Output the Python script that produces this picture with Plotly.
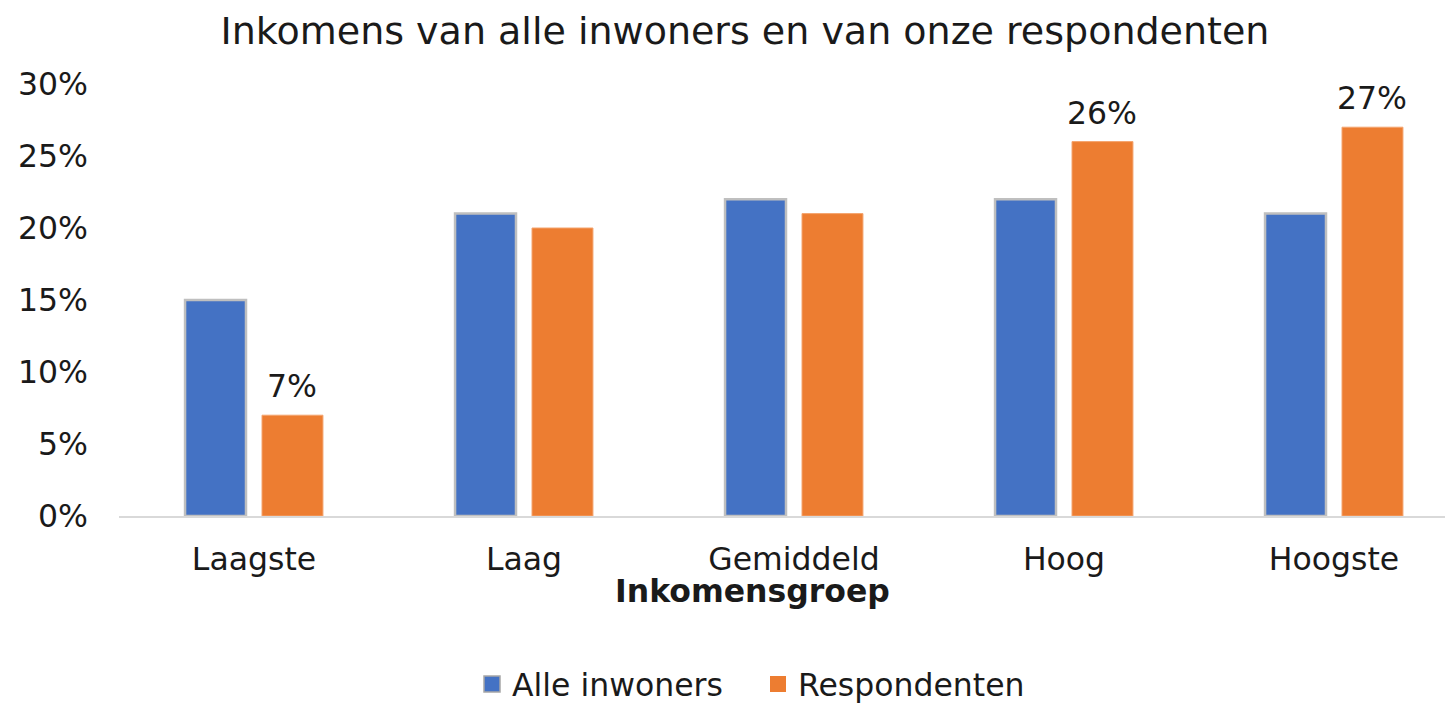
import plotly.graph_objects as go

categories = ["Laagste", "Laag", "Gemiddeld", "Hoog", "Hoogste"]
alle_inwoners = [15, 21, 22, 22, 21]
respondenten = [7, 20, 21, 26, 27]
resp_labels = ["7%", "", "", "26%", "27%"]
y_ticks = [0, 5, 10, 15, 20, 25, 30]
y_tick_labels = ["0%", "5%", "10%", "15%", "20%", "25%", "30%"]

FONT = "DejaVu Sans"
FS = 31.5
TXT = "#1a1a1a"
BLUE, ORANGE = "#4472C4", "#ED7D31"
W, H = 1453, 703
OFF = 8  # page body margin offset
ML, MR, MT, MB = 119 - OFF, 0, 84 - OFF, H - (516 - OFF)

fig = go.Figure()
fig.add_trace(go.Bar(
    x=categories, y=alle_inwoners, name="Alle inwoners", showlegend=False,
    marker=dict(color=BLUE, line=dict(color="#BFBFBF", width=2.5)),
))
fig.add_trace(go.Bar(
    x=categories, y=respondenten, name="Respondenten", showlegend=False,
    marker=dict(color=ORANGE, line=dict(color="#F4A46E", width=1)),
))
# legend entries with larger square swatches
fig.add_trace(go.Scatter(x=[None], y=[None], mode="markers", name="Alle inwoners",
                         marker=dict(symbol="square", size=17, color=BLUE,
                                     line=dict(color="#A6A6A6", width=1.5))))
fig.add_trace(go.Scatter(x=[None], y=[None], mode="markers", name="Respondenten",
                         marker=dict(symbol="square", size=17, color=ORANGE,
                                     line=dict(color=ORANGE, width=0))))

def px_x(px):
    return (px - OFF - ML) / (W - ML - MR)

def px_y(py):
    return (H - MB - (py - OFF)) / (H - MT - MB)

annotations = [dict(text="<b>Inkomensgroep</b>", x=px_x(752), y=px_y(591),
                    xref="paper", yref="paper", xanchor="center", yanchor="middle",
                    showarrow=False, font=dict(family=FONT, size=FS, color=TXT))]
for cat, val, lab in zip(categories, respondenten, resp_labels):
    if lab:
        annotations.append(dict(text=lab, x=cat, y=val, xref="x", yref="y",
                                xanchor="center", yanchor="bottom", xshift=38, yshift=9,
                                showarrow=False, font=dict(family=FONT, size=FS, color=TXT)))

plot_w = W - ML - MR
fig.update_layout(
    width=W, height=H,
    margin=dict(l=ML, r=MR, t=MT, b=MB, autoexpand=False),
    paper_bgcolor="white", plot_bgcolor="white",
    barmode="group", bargap=0.43, bargroupgap=0.208,
    font=dict(family=FONT, size=FS, color=TXT),
    title=dict(text="Inkomens van alle inwoners en van onze respondenten",
               x=(745 - OFF) / W, xanchor="center", xref="container",
               y=1 - 23 / H, yanchor="middle", yref="container",
               font=dict(family=FONT, size=38, color=TXT)),
    showlegend=True,
    legend=dict(orientation="h", x=px_x(758), xanchor="center",
                y=px_y(684), yanchor="middle",
                font=dict(family=FONT, size=FS, color=TXT),
                itemwidth=30, traceorder="normal", entrywidth=241),
    xaxis=dict(range=[-0.5, -0.5 + plot_w / 270.0], showgrid=False, showline=True,
               linecolor="#D9D9D9", linewidth=2, ticks="",
               tickfont=dict(family=FONT, size=FS, color=TXT),
               ticklabelstandoff=14, fixedrange=True, automargin=False),
    yaxis=dict(range=[0, 30], tickvals=y_ticks, ticktext=y_tick_labels,
               showgrid=False, showline=False, zeroline=False, ticks="",
               tickfont=dict(family=FONT, size=FS, color=TXT),
               ticklabelstandoff=30, automargin=False),
    annotations=annotations,
)

fig.write_html("out.html")
